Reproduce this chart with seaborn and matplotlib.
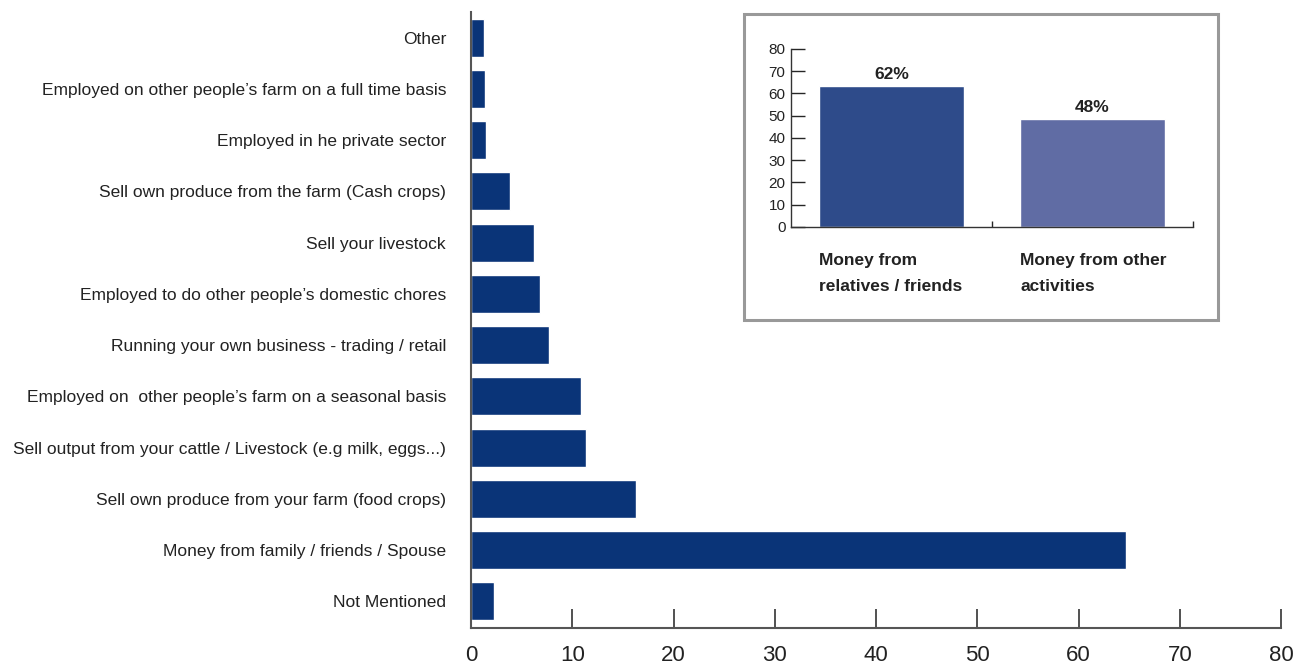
import matplotlib
matplotlib.use("Agg")
import matplotlib.pyplot as plt
import seaborn as sns
import pandas as pd
from matplotlib.patches import Rectangle

# main chart data (top to bottom)
sources = ['Other',
           'Employed on other people\u2019s farm on a full time basis',
           'Employed in he private sector',
           'Sell own produce from the farm (Cash crops)',
           'Sell your livestock',
           'Employed to do other people\u2019s domestic chores',
           'Running your own business - trading / retail',
           'Employed on  other people\u2019s farm on a seasonal basis',
           'Sell output from your cattle / Livestock (e.g milk, eggs...)',
           'Sell own produce from your farm (food crops)',
           'Money from family / friends / Spouse',
           'Not Mentioned']
shares = [1.3, 1.4, 1.5, 3.9, 6.2, 6.8, 7.7, 10.9, 11.4, 16.3, 64.7, 2.3]

# inset data
inset_cats = ['Money from\nrelatives / friends', 'Money from other\nactivities']
inset_vals = [63.2, 48.4]
inset_labels = ['62%', '48%']

sns.set_style("white")
plt.rcParams['font.family'] = ['Liberation Sans', 'DejaVu Sans']

df = pd.DataFrame({'source': sources, 'share': shares})
df_in = pd.DataFrame({'cat': inset_cats, 'val': inset_vals})

fig = plt.figure(figsize=(13.1, 6.68), dpi=100)
ax = fig.add_axes([471/1310, 1-628/668, 810/1310, 616/668])
sns.barplot(data=df, x='share', y='source', orient='h', color='#0a3478',
            saturation=1, width=0.74, ax=ax)
ax.set_xlim(0, 80)
ax.set_ylim(11.52, -0.5)
ax.set_xticks(range(0, 81, 10))
ax.set_xlabel('')
ax.set_ylabel('')
for s in ['top', 'right']:
    ax.spines[s].set_visible(False)
for s in ['left', 'bottom']:
    ax.spines[s].set_color('#555555')
    ax.spines[s].set_linewidth(1.5)
ax.tick_params(axis='x', bottom=True, direction='in', length=14, width=1.2,
               color='#333333', labelsize=16, pad=12, labelcolor='#222222')
ax.tick_params(axis='y', left=False, length=0, labelsize=12.5, pad=18,
               labelcolor='#222222')

# inset box
fig.patches.append(Rectangle((744/1310, 1-320/668), 474/1310, 306/668,
                             transform=fig.transFigure, fill=False,
                             edgecolor='#999999', linewidth=2.2))

ax2 = fig.add_axes([791/1310, 1-227/668, 402/1310, 178/668])
sns.barplot(data=df_in, x='cat', y='val', hue='cat', palette=['#2e4b8a', '#606ca4'],
            saturation=1, width=0.72, legend=False, ax=ax2)
ax2.set_ylim(0, 80)
ax2.set_xlim(-0.5, 1.5)
ax2.set_yticks(range(0, 81, 10))
ax2.set_xticks([0.5, 1.5])
ax2.set_xticklabels([])
ax2.set_xlabel('')
ax2.set_ylabel('')
for s in ['top', 'right']:
    ax2.spines[s].set_visible(False)
for s in ['left', 'bottom']:
    ax2.spines[s].set_color('#333333')
    ax2.spines[s].set_linewidth(1)
ax2.tick_params(axis='y', left=True, direction='in', length=10, width=1,
                labelsize=11, pad=4, labelcolor='#222222')
ax2.tick_params(axis='x', bottom=True, direction='in', length=4, width=1)
for i, (v, lab) in enumerate(zip(inset_vals, inset_labels)):
    ax2.text(i, v + 2, lab, ha='center', va='bottom', fontsize=12.5,
             fontweight='bold', color='#222222')
    ax2.text(i - 0.36, -0.145, inset_cats[i], ha='left', va='top',
             fontsize=12.5, fontweight='bold', color='#222222',
             linespacing=1.95, transform=ax2.get_xaxis_transform())

fig.savefig('out.png', dpi=100)
